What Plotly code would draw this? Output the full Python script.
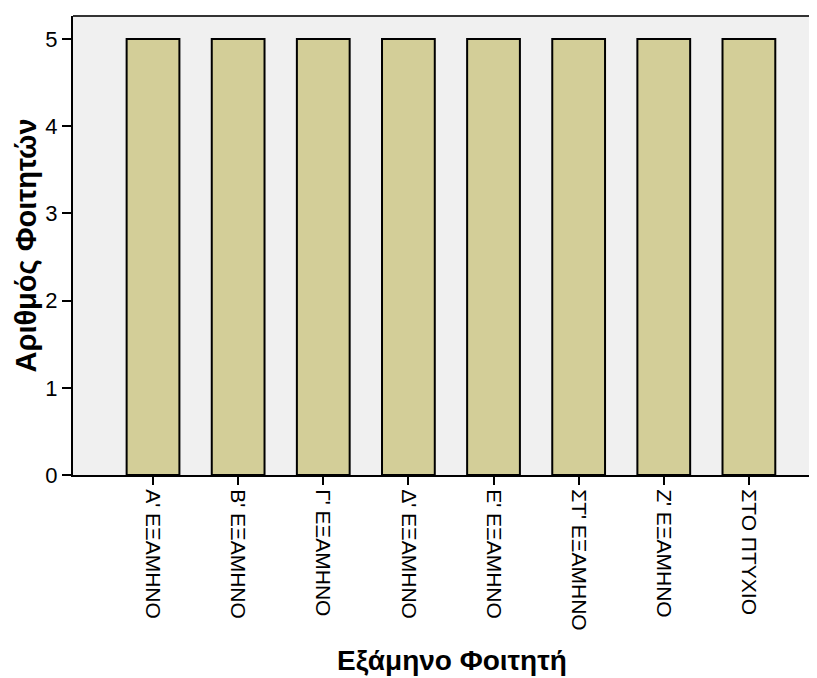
import plotly.graph_objects as go

categories = ["Α' ΕΞΑΜΗΝΟ", "Β' ΕΞΑΜΗΝΟ", "Γ' ΕΞΑΜΗΝΟ", "Δ' ΕΞΑΜΗΝΟ",
              "Ε' ΕΞΑΜΗΝΟ", "ΣΤ' ΕΞΑΜΗΝΟ", "Ζ' ΕΞΑΜΗΝΟ", "ΣΤΟ ΠΤΥΧΙΟ"]
counts = [5, 5, 5, 5, 5, 5, 5, 5]
y_ticks = [0, 1, 2, 3, 4, 5]
x_title = "Εξάμηνο Φοιτητή"
y_title = "Αριθμός Φοιτητών"

# page body has an 8px margin, so figure is 8px smaller and shifted
W, H = 809, 670
L, T, B = 65, 8, 203
PW, PH = W - L, H - T - B

fig = go.Figure(go.Bar(
    x=list(range(len(categories))), y=counts,
    marker=dict(color="#D3CE98", line=dict(color="black", width=2)),
    width=0.62,
))

fig.update_layout(
    width=W, height=H,
    margin=dict(l=L, r=0, t=T, b=B, pad=0),
    paper_bgcolor="white", plot_bgcolor="#F0F0F0",
    showlegend=False,
    font=dict(family="Liberation Sans, Arial, sans-serif", color="black"),
    xaxis=dict(
        range=[-0.94, 7.80],
        tickmode="array", tickvals=list(range(len(categories))), ticktext=categories,
        tickangle=90,
        tickfont=dict(size=21, color="black"),
        ticks="outside", ticklen=8, tickwidth=2, tickcolor="black",
        showline=True, linecolor="black", linewidth=2,
        showgrid=False, zeroline=False,
    ),
    yaxis=dict(
        range=[0, 5.265],
        tickmode="array", tickvals=y_ticks,
        tickfont=dict(size=22, color="black"),
        ticks="outside", ticklen=9, tickwidth=2, tickcolor="black",
        showline=True, linecolor="black", linewidth=2,
        showgrid=False, zeroline=False,
    ),
    shapes=[dict(type="line", xref="paper", yref="paper", x0=0, x1=1, y0=1, y1=1,
                 line=dict(color="#333333", width=2))],
    annotations=[
        dict(text="<b>" + x_title + "</b>", xref="paper", yref="paper",
             x=(444 - L) / PW, y=-(652 - (T + PH)) / PH, xanchor="center", yanchor="middle",
             showarrow=False, font=dict(size=28, color="black")),
        dict(text="<b>" + y_title + "</b>", xref="paper", yref="paper",
             x=-(L - 17) / PW, y=0.5, xanchor="center", yanchor="middle",
             textangle=-90, showarrow=False, font=dict(size=29, color="black")),
    ],
)

fig.write_html("out.html")
